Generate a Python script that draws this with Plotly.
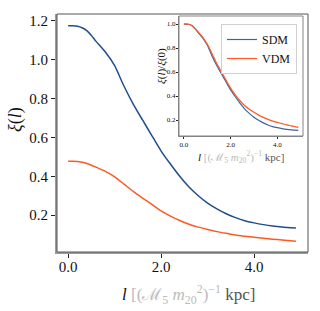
import plotly.graph_objects as go

l_vals = [0, 0.1, 0.2, 0.3, 0.4, 0.5, 0.6, 0.8, 1.0, 1.2, 1.4, 1.6, 1.8, 2.0, 2.2, 2.4, 2.6, 2.8,
          3.0, 3.2, 3.4, 3.6, 3.8, 4.0, 4.2, 4.4, 4.6, 4.9]
xi_sdm = [1.175, 1.175, 1.173, 1.165, 1.15, 1.125, 1.095, 1.04, 0.97, 0.865, 0.772, 0.69, 0.61,
          0.53, 0.463, 0.40, 0.345, 0.30, 0.262, 0.232, 0.207, 0.187, 0.171, 0.160, 0.151,
          0.144, 0.139, 0.134]
xi_vdm = [0.477, 0.477, 0.476, 0.472, 0.466, 0.457, 0.447, 0.425, 0.397, 0.36, 0.322, 0.288,
          0.255, 0.222, 0.195, 0.172, 0.153, 0.138, 0.126, 0.115, 0.106, 0.098, 0.091, 0.086,
          0.081, 0.076, 0.072, 0.066]
ratio_sdm = [v / xi_sdm[0] for v in xi_sdm]
ratio_vdm = [v / xi_vdm[0] for v in xi_vdm]

tick_vals_x = [0, 2, 4]
tick_text_x = ["0.0", "2.0", "4.0"]
main_tick_y = [0.2, 0.4, 0.6, 0.8, 1.0, 1.2]
inset_tick_y = [0.2, 0.4, 0.6, 0.8, 1.0]

BLUE = "#1f4e8f"
ORANGE = "#fc5a24"
FONT = "Liberation Serif"

fig = go.Figure()
fig.add_trace(go.Scatter(x=l_vals, y=xi_sdm, mode="lines",
                         line=dict(color=BLUE, width=1.5, shape="spline", smoothing=0.6),
                         showlegend=False, xaxis="x", yaxis="y"))
fig.add_trace(go.Scatter(x=l_vals, y=xi_vdm, mode="lines",
                         line=dict(color=ORANGE, width=1.5, shape="spline", smoothing=0.6),
                         showlegend=False, xaxis="x", yaxis="y"))
fig.add_trace(go.Scatter(x=l_vals, y=ratio_sdm, mode="lines", name="SDM",
                         line=dict(color="#3e64a8", width=1.2, shape="spline", smoothing=0.6),
                         xaxis="x2", yaxis="y2"))
fig.add_trace(go.Scatter(x=l_vals, y=ratio_vdm, mode="lines", name="VDM",
                         line=dict(color=ORANGE, width=1.2, shape="spline", smoothing=0.6),
                         xaxis="x2", yaxis="y2"))

W, H = 320, 311
def px(x): return x / W
def py(y): return (H - y) / H

axis_common = dict(showgrid=False, zeroline=False, showline=True, ticks="outside",
                   tickcolor="#222", mirror=False)

fig.update_layout(
    width=W, height=H, margin=dict(l=0, r=0, t=0, b=0),
    paper_bgcolor="white", plot_bgcolor="white",
    font=dict(family=FONT, color="#111"),
    xaxis=dict(domain=[px(57), px(308)], range=[-0.24, 5.16], tickvals=tick_vals_x, ticktext=tick_text_x,
               linecolor="#9a9a9a", linewidth=2, ticklen=4, tickwidth=1, tickfont=dict(size=15),
               ticklabelstandoff=-4, **axis_common),
    yaxis=dict(domain=[py(252), py(14)], range=[0.01, 1.236], tickvals=main_tick_y,
               ticktext=[f"{v:.1f}" for v in main_tick_y],
               linecolor="#9a9a9a", linewidth=2, ticklen=4, tickwidth=1, tickfont=dict(size=15), **axis_common),
    xaxis2=dict(domain=[px(179), px(303)], range=[-0.21, 5.1], anchor="y2", tickvals=tick_vals_x,
                ticktext=tick_text_x, linecolor="#9a9a9a", linewidth=1.2, ticklen=2, tickwidth=0.8,
                tickfont=dict(size=7), ticklabelstandoff=-1, **axis_common),
    yaxis2=dict(domain=[py(136), py(16)], range=[0.067, 1.067], anchor="x2", tickvals=inset_tick_y,
                ticktext=[f"{v:.1f}" for v in inset_tick_y], linecolor="#9a9a9a", linewidth=1.2, ticklen=2,
                tickwidth=0.8, tickfont=dict(size=7), ticklabelstandoff=-1, **axis_common),
    legend=dict(x=px(297), y=py(24), xanchor="right", yanchor="top", bgcolor="white",
                bordercolor="#d0d0d0", borderwidth=1, font=dict(family=FONT, size=12, color="#111"),
                itemwidth=30, tracegroupgap=0),
    shapes=[
        dict(type="rect", xref="x domain", yref="y domain", x0=0, x1=1, y0=0, y1=1,
             line=dict(color="#555", width=1)),
        dict(type="rect", xref="x2 domain", yref="y2 domain", x0=0, x1=1, y0=0, y1=1,
             line=dict(color="#666", width=0.8)),
    ],
)

label_main = ("<i>l</i> <span style='color:#bbbbbb'>[(ℳ<sub>5</sub> <i>m</i><sub>20</sub><sup>2</sup>)"
              "<sup>−1</sup></span> <span style='color:#555'>kpc]</span>")
ann = dict(xref="paper", yref="paper", showarrow=False, xanchor="center", yanchor="middle")
fig.add_annotation(text=label_main, x=px(188), y=py(294), font=dict(family=FONT, size=17, color="#111"), **ann)
fig.add_annotation(text=label_main, x=px(241), y=py(157), font=dict(family=FONT, size=11, color="#111"), **ann)
fig.add_annotation(text="<i>ξ</i>(<i>l</i>)", x=px(15), y=py(120), textangle=-90,
                   font=dict(family=FONT, size=18, color="#111"), **ann)
fig.add_annotation(text="<i>ξ</i>(<i>l</i>)/<i>ξ</i>(0)", x=px(161), y=py(66), textangle=-90,
                   font=dict(family=FONT, size=11, color="#111"), **ann)

fig.write_html("out.html", config={"displayModeBar": False},
               post_script="document.body.style.margin='0px';")
